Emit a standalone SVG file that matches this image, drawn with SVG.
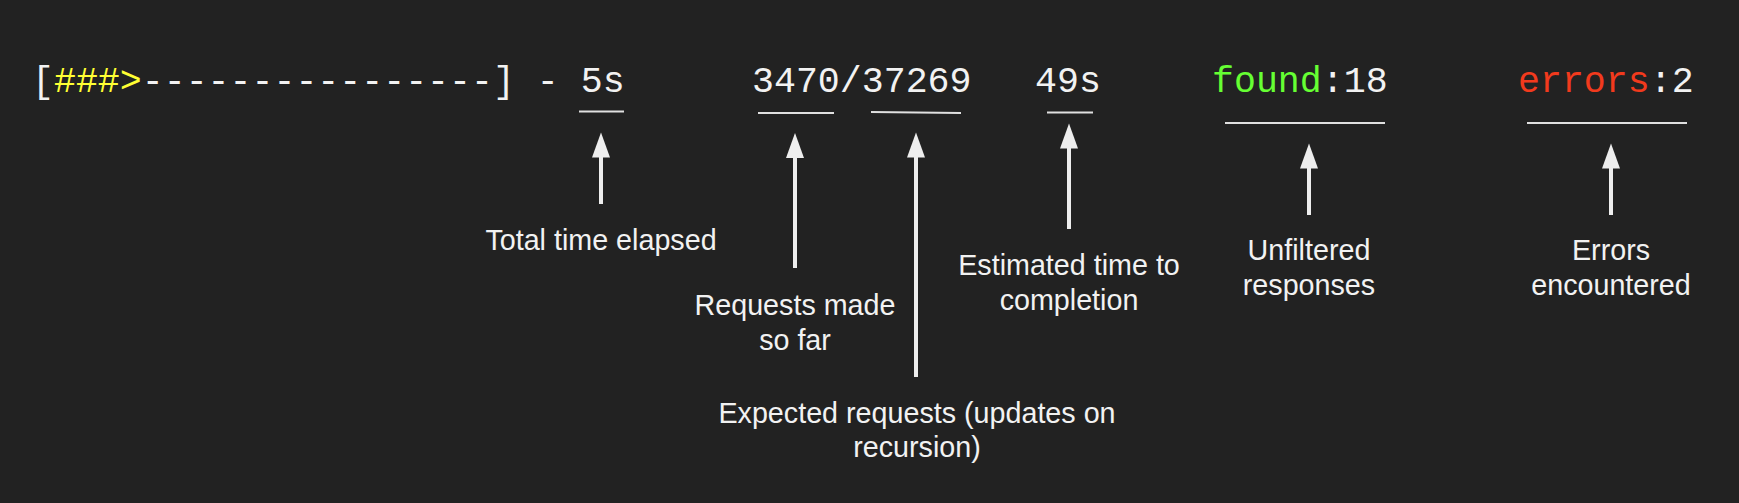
<svg xmlns="http://www.w3.org/2000/svg" width="1739" height="503" viewBox="0 0 1739 503">
<style>
.mono{font-family:"Liberation Mono","DejaVu Sans Mono",monospace;font-size:36.6px;fill:#f2f2f2}
.yel{fill:#ffff33}
.grn{fill:#66ff33}
.red{fill:#f23a1d}
.lbl{font-family:"Liberation Sans",Arial,sans-serif;font-size:28.7px;fill:#f2f2f2;text-anchor:middle}
.ul{stroke:#e0e0e0;stroke-width:2;fill:none}
.sh{stroke:#eeeeee;stroke-width:4;fill:none}
.hd{fill:#eeeeee}
</style>
<rect width="1739" height="503" fill="#222222"/>
<g id="status-line">
<text class="mono" x="32" y="92">[<tspan class="yel">###&gt;</tspan>----------------] - 5s</text>
<text class="mono" x="752" y="92">3470/37269</text>
<text class="mono" x="1035" y="92">49s</text>
<text class="mono" x="1212" y="92"><tspan class="grn">found</tspan>:18</text>
<text class="mono" x="1518" y="92"><tspan class="red">errors</tspan>:2</text>
</g>
<g id="underlines">
<line class="ul" x1="579" y1="111.5" x2="624" y2="111.5"/>
<line class="ul" x1="758" y1="113" x2="834" y2="113"/>
<line class="ul" x1="871" y1="112" x2="961" y2="113"/>
<line class="ul" x1="1047" y1="112.5" x2="1093" y2="112.5"/>
<line class="ul" x1="1225" y1="123" x2="1385" y2="123"/>
<line class="ul" x1="1527" y1="123" x2="1687" y2="123"/>
</g>
<g id="connectors">
<path class="sh" d="M601 204 V157"/>
<path class="hd" d="M601 132.5 L610 157.5 L592 157.5 Z"/>
<path class="sh" d="M795 268 V158"/>
<path class="hd" d="M795 133 L804 158 L786 158 Z"/>
<path class="sh" d="M916 377 V157"/>
<path class="hd" d="M916 132.5 L925 157.5 L907 157.5 Z"/>
<path class="sh" d="M1069 229 V148"/>
<path class="hd" d="M1069 123.5 L1078 148.5 L1060 148.5 Z"/>
<path class="sh" d="M1309 215 V168"/>
<path class="hd" d="M1309 143.5 L1318 168.5 L1300 168.5 Z"/>
<path class="sh" d="M1611 215 V168"/>
<path class="hd" d="M1611 143.5 L1620 168.5 L1602 168.5 Z"/>
</g>
<g id="label-elapsed"><text class="lbl" x="601" y="250">Total time elapsed</text></g>
<g id="label-made"><text class="lbl" x="795" y="315">Requests made</text><text class="lbl" x="795" y="350">so far</text></g>
<g id="label-expected"><text class="lbl" x="917" y="423">Expected requests (updates on</text><text class="lbl" x="917" y="457">recursion)</text></g>
<g id="label-eta"><text class="lbl" x="1069" y="275">Estimated time to</text><text class="lbl" x="1069" y="310">completion</text></g>
<g id="label-found"><text class="lbl" x="1309" y="260">Unfiltered</text><text class="lbl" x="1309" y="295">responses</text></g>
<g id="label-errors"><text class="lbl" x="1611" y="260">Errors</text><text class="lbl" x="1611" y="295">encountered</text></g>
</svg>
